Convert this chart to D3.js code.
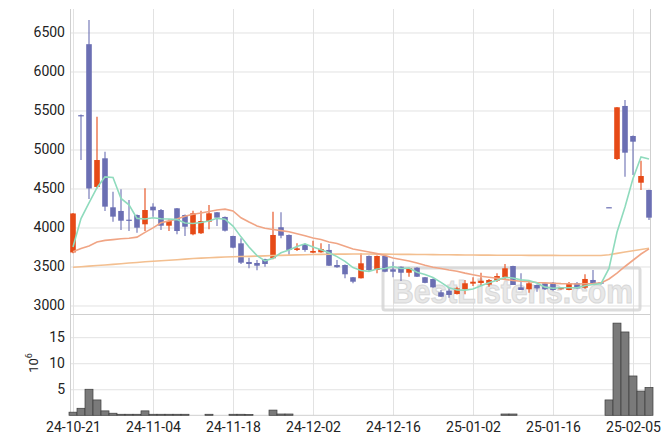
<!DOCTYPE html>
<html><head><meta charset="utf-8">
<script src="https://cdn.jsdelivr.net/npm/d3@7"></script>
<style>
html,body{margin:0;padding:0;background:#fff;}
svg{display:block;font-family:Roboto,"DejaVu Sans",sans-serif;}
</style></head><body>
<svg id="c" width="671" height="444"></svg>
<script>
// Korean trading days, 2024-10-21 .. 2025-02-07
const dates = [
"2024-10-21","2024-10-22","2024-10-23","2024-10-24","2024-10-25","2024-10-28","2024-10-29","2024-10-30","2024-10-31","2024-11-01",
"2024-11-04","2024-11-05","2024-11-06","2024-11-07","2024-11-08","2024-11-11","2024-11-12","2024-11-13","2024-11-14","2024-11-15",
"2024-11-18","2024-11-19","2024-11-20","2024-11-21","2024-11-22","2024-11-25","2024-11-26","2024-11-27","2024-11-28","2024-11-29",
"2024-12-02","2024-12-03","2024-12-04","2024-12-05","2024-12-06","2024-12-09","2024-12-10","2024-12-11","2024-12-12","2024-12-13",
"2024-12-16","2024-12-17","2024-12-18","2024-12-19","2024-12-20","2024-12-23","2024-12-24","2024-12-26","2024-12-27","2024-12-30",
"2025-01-02","2025-01-03","2025-01-06","2025-01-07","2025-01-08","2025-01-09","2025-01-10","2025-01-13","2025-01-14","2025-01-15",
"2025-01-16","2025-01-17","2025-01-20","2025-01-21","2025-01-22","2025-01-23","2025-01-24","2025-01-31","2025-02-03","2025-02-04",
"2025-02-05","2025-02-06","2025-02-07"];

const open = [3680,5440,6350,4520,4887,4259,4212,4100,4160,4041,
4267,4224,4023,4246,4160,3913,3926,4074,4195,4135,
3891,3797,3558,3545,3596,3605,4003,3904,3712,3788,
3677,3682,3712,3519,3519,3362,3349,3635,3455,3635,
3464,3497,3420,3485,3362,3340,3169,3190,3147,3208,
3280,3288,3267,3318,3362,3506,3233,3208,3263,3285,
3292,3208,3199,3285,3228,3327,3297,4260,4878,5558,
5173,4574,4481];
const high = [4185,5450,6660,5420,4972,4459,4490,4353,4165,4503,
4310,4237,4105,4250,4165,4215,4215,4288,4200,4140,
3895,3861,3613,3583,3600,4203,4195,3910,3797,3795,
3831,3797,3788,3583,3525,3365,3669,3640,3640,3640,
3562,3500,3485,3490,3365,3345,3200,3220,3240,3327,
3362,3420,3340,3413,3532,3510,3413,3300,3270,3290,
3300,3232,3300,3300,3400,3455,3300,4262,5545,5635,
5180,4856,4485];
const low = [3670,4865,4365,4500,4212,4074,3968,3955,3933,3955,
4139,3968,3955,3913,3891,3900,3916,3977,4019,3950,
3735,3532,3477,3451,3497,3592,3861,3647,3700,3690,
3670,3675,3505,3485,3349,3285,3345,3430,3413,3425,
3362,3314,3369,3365,3285,3228,3110,3100,3140,3143,
3250,3250,3240,3300,3340,3263,3199,3165,3177,3200,
3190,3205,3195,3215,3215,3270,3270,4258,4865,4651,
4673,4481,4096];
const close = [4180,5435,4500,4865,4267,4139,4087,4096,3997,4224,
4220,4023,4083,3955,4010,4182,4083,4182,4126,3959,
3741,3549,3532,3510,3532,3904,3895,3712,3733,3712,
3699,3724,3510,3490,3400,3305,3541,3455,3635,3433,
3433,3420,3480,3369,3290,3233,3113,3135,3220,3285,
3305,3318,3327,3378,3477,3263,3199,3285,3220,3208,
3199,3228,3285,3220,3340,3276,3280,4260,5541,4959,
5100,4660,4126];
// volume, millions of shares (0 = too small to see)
const volume = [0.6,1.35,5.0,2.95,0.85,0.4,0.2,0.2,0.2,0.85,
0.2,0.2,0.2,0.2,0.2,0,0,0.2,0,0,
0.2,0.2,0.15,0,0,1.0,0.25,0.25,0,0,
0,0,0,0,0,0,0,0,0,0,
0,0,0,0,0,0,0,0,0,0,
0,0,0,0,0.25,0.25,0,0,0,0,
0,0,0,0,0,0,0,2.95,17.7,16.0,
7.55,4.65,5.35];
const ma5 = [3750,4115,4315,4510,4649,4641,4372,4291,4117,4109,
4125,4112,4109,4101,4058,4051,4063,4082,4117,4106,
4018,3880,3750,3640,3573,3605,3675,3711,3755,3791,
3750,3716,3676,3627,3565,3486,3449,3438,3467,3474,
3499,3475,3480,3427,3398,3358,3297,3228,3198,3197,
3212,3253,3291,3323,3361,3353,3329,3320,3289,3235,
3222,3228,3228,3228,3254,3270,3280,3475,3939,4263,
4628,4904,4877];
const ma20 = [3690,3730,3763,3815,3835,3845,3855,3862,3876,3938,
3995,4060,4085,4110,4145,4170,4185,4205,4225,4235,
4212,4125,4070,4020,3990,3975,3960,3945,3920,3895,
3865,3845,3815,3795,3760,3725,3705,3685,3665,3640,
3610,3590,3570,3545,3515,3490,3475,3455,3440,3415,
3395,3375,3362,3350,3335,3320,3310,3305,3295,3290,
3285,3280,3278,3276,3278,3282,3290,3340,3415,3500,
3580,3660,3725];
const maLong = [3490,3497,3505,3512,3520,3527,3535,3545,3552,3560,
3567,3574,3580,3587,3595,3602,3607,3612,3617,3622,
3625,3628,3630,3633,3636,3640,3643,3646,3649,3651,
3653,3655,3657,3658,3659,3660,3660,3660,3659,3658,
3657,3656,3655,3654,3653,3652,3651,3650,3649,3648,
3647,3646,3646,3645,3645,3644,3644,3643,3643,3642,
3642,3641,3641,3640,3640,3640,3640,3650,3668,3685,
3702,3718,3733];
const priceTicks = [3000,3500,4000,4500,5000,5500,6000,6500];
const volTicks = [5,10,15];
const dateTickIdx = [0,10,20,30,40,50,60,70];

const C = {up:"#e64a17", down:"#6b6fb3", ma5:"#8fdbbd", ma20:"#f0a585", maLong:"#f3bf90",
  grid:"#e2e2e2", frame:"#cfcfcf", text:"#222", vol:"#7a7a7a", volEdge:"#3c3c3c"};

const svg = d3.select("#c");
const L=70, R=651, T=9, MB=314, VB=415.3;
const x = d3.scaleLinear().domain([-0.375, 72.25]).range([L, R]);
const y = d3.scaleLinear().domain([2891, 6801]).range([MB, T]);
const yv = d3.scaleLinear().domain([0, 19.45]).range([VB, MB]);

function styleAxis(g){
  g.select(".domain").remove();
  g.selectAll(".tick line").attr("stroke", C.grid).attr("stroke-width",1);
  g.selectAll(".tick text").attr("fill", C.text).attr("font-size", 14).attr("font-family","Roboto, sans-serif");
}
svg.append("g").attr("transform",`translate(0,${VB})`)
  .call(d3.axisBottom(x).tickValues(dateTickIdx).tickSizeInner(-(VB-T)).tickSizeOuter(0).tickPadding(7)
    .tickFormat(i => dates[i].slice(2)))
  .call(styleAxis);
svg.append("g").attr("transform",`translate(${L},0)`)
  .call(d3.axisLeft(y).tickValues(priceTicks).tickSizeInner(-(R-L)).tickSizeOuter(0).tickPadding(5).tickFormat(d3.format("d")))
  .call(styleAxis);
svg.append("g").attr("transform",`translate(${L},0)`)
  .call(d3.axisLeft(yv).tickValues(volTicks).tickSizeInner(-(R-L)).tickSizeOuter(0).tickPadding(5).tickFormat(d3.format("d")))
  .call(styleAxis);

const fr = svg.append("g").attr("stroke", C.frame).attr("stroke-width",1).attr("fill","none");
fr.append("line").attr("x1",L+0.5).attr("x2",L+0.5).attr("y1",T).attr("y2",VB);
fr.append("line").attr("x1",R-0.5).attr("x2",R-0.5).attr("y1",T).attr("y2",VB);
fr.append("line").attr("x1",L).attr("x2",R).attr("y1",MB+0.5).attr("y2",MB+0.5);
fr.append("line").attr("x1",L).attr("x2",R).attr("y1",VB).attr("y2",VB);

const wm = svg.append("g").attr("opacity",0.85);
wm.append("rect").attr("x",383).attr("y",268).attr("width",257).attr("height",42).attr("rx",2)
  .attr("fill","none").attr("stroke","#d6d6d6").attr("stroke-width",3);
wm.append("text").attr("x",392).attr("y",303).text("BestListens.com")
  .attr("font-family","Arial, 'Liberation Sans', sans-serif").attr("font-weight","bold").attr("font-size",33)
  .attr("textLength",241).attr("lengthAdjust","spacingAndGlyphs")
  .attr("fill","#e4e4e4").attr("stroke","#d2d2d2").attr("stroke-width",1);

const idx = d3.range(dates.length);
svg.append("g").selectAll("rect").data(idx.filter(i => volume[i] > 0)).join("rect")
  .attr("x", i => x(i-0.5)).attr("width", x(1)-x(0))
  .attr("y", i => yv(volume[i])).attr("height", i => yv(0)-yv(volume[i]))
  .attr("fill", C.vol).attr("stroke", C.volEdge).attr("stroke-width",0.7);

const bw = (x(1)-x(0))*0.7;
const cg = svg.append("g");
cg.selectAll("line").data(idx).join("line")
  .attr("x1", i=>x(i)).attr("x2", i=>x(i)).attr("y1", i=>y(high[i])).attr("y2", i=>y(low[i]))
  .attr("stroke", i => close[i]>open[i]?C.up:C.down).attr("stroke-width",1.1);
cg.selectAll("rect").data(idx).join("rect")
  .attr("x", i=>x(i)-bw/2).attr("width", bw)
  .attr("y", i=>y(Math.max(open[i],close[i])))
  .attr("height", i=>Math.max(1.2, Math.abs(y(open[i])-y(close[i]))))
  .attr("fill", i => close[i]>open[i]?C.up:C.down);

const line = arr => d3.line().x(i=>x(i)).y(i=>y(arr[i]))(idx);
svg.append("path").attr("d", line(maLong)).attr("fill","none").attr("stroke",C.maLong).attr("stroke-width",1.6);
svg.append("path").attr("d", line(ma20)).attr("fill","none").attr("stroke",C.ma20).attr("stroke-width",1.6);
svg.append("path").attr("d", line(ma5)).attr("fill","none").attr("stroke",C.ma5).attr("stroke-width",1.6);

const ul = svg.append("text").attr("transform","translate(38,363) rotate(-90)")
  .attr("text-anchor","middle").attr("fill",C.text).attr("font-size",13);
ul.append("tspan").text("10");
ul.append("tspan").text("6").attr("font-size",9).attr("dy",-6);
</script>
</body></html>
